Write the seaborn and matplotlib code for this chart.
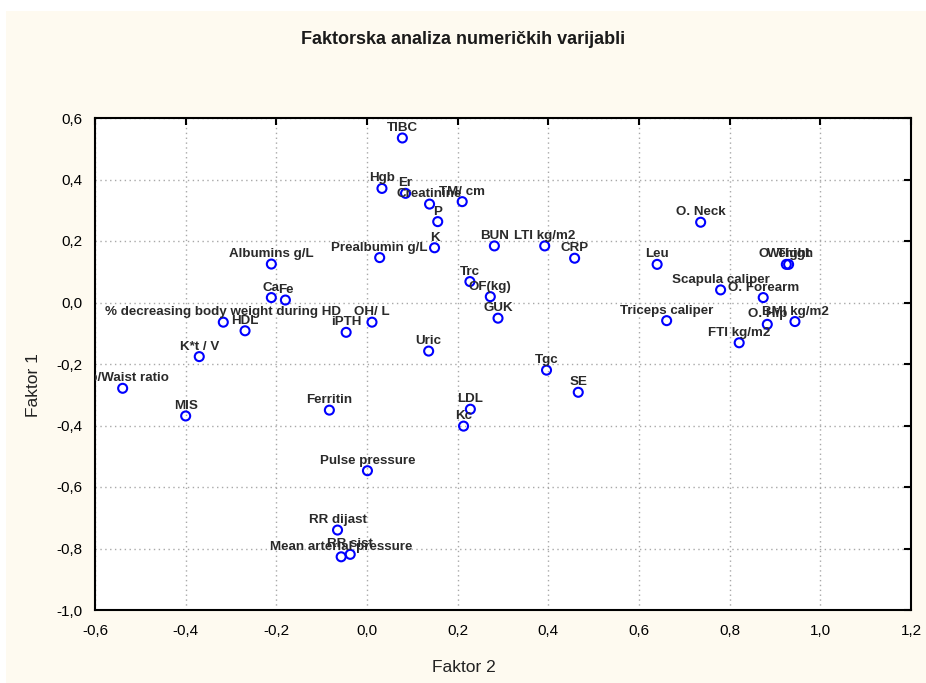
import matplotlib
matplotlib.use("Agg")
import matplotlib.pyplot as plt
from matplotlib.patches import Rectangle
import seaborn as sns

# factor loadings (x = Faktor 2, y = Faktor 1)
varijable = [
    "TIBC", "Hgb", "Er", "Creatinine", "TM/ cm", "P", "K", "Prealbumin g/L",
    "Albumins g/L", "BUN", "LTI kg/m2", "CRP", "Trc", "OF(kg)", "GUK", "Ca", "Fe",
    "% decreasing body weight during HD", "HDL", "iPTH", "OH/ L", "K*t / V",
    "Hip/Waist ratio", "MIS", "Ferritin", "Uric", "Tgc", "SE", "LDL", "Kc",
    "Pulse pressure", "RR dijast", "Mean arterial pressure", "RR sist",
    "O. Neck", "Leu", "O. Thigh", "Weight", "Scapula caliper", "O. Forearm",
    "Triceps caliper", "O. Hip", "BMI kg/m2", "FTI kg/m2",
]
faktor2 = [
    0.078, 0.033, 0.085, 0.138, 0.210, 0.156, 0.149, 0.028,
    -0.211, 0.281, 0.392, 0.458, 0.227, 0.272, 0.289, -0.211, -0.180,
    -0.317, -0.269, -0.046, 0.011, -0.370,
    -0.539, -0.400, -0.083, 0.136, 0.396, 0.466, 0.228, 0.213,
    0.001, -0.065, -0.057, -0.037,
    0.736, 0.640, 0.925, 0.930, 0.780, 0.874,
    0.661, 0.883, 0.944, 0.821,
]
faktor1 = [
    0.535, 0.371, 0.355, 0.320, 0.328, 0.263, 0.178, 0.146,
    0.125, 0.184, 0.184, 0.144, 0.068, 0.019, -0.051, 0.016, 0.008,
    -0.064, -0.092, -0.097, -0.064, -0.176,
    -0.279, -0.369, -0.350, -0.158, -0.220, -0.292, -0.347, -0.402,
    -0.547, -0.740, -0.827, -0.819,
    0.261, 0.124, 0.124, 0.124, 0.041, 0.016,
    -0.059, -0.071, -0.062, -0.131,
]
x_ticks = [-0.6, -0.4, -0.2, 0.0, 0.2, 0.4, 0.6, 0.8, 1.0, 1.2]
y_ticks = [-1.0, -0.8, -0.6, -0.4, -0.2, 0.0, 0.2, 0.4, 0.6]

sns.set_theme(style="white")
plt.rcParams["font.family"] = ["Liberation Sans", "DejaVu Sans"]

fig = plt.figure(figsize=(9.26, 6.83), dpi=100)
fig.patch.set_facecolor("white")
fig.patches.append(Rectangle((6 / 926, 0), 1, 1 - 11 / 683, transform=fig.transFigure,
                             facecolor="#fefaf0", edgecolor="none", zorder=-10))

ax = fig.add_axes([95 / 926, 1 - 610 / 683, (911 - 95) / 926, (610 - 118) / 683])
ax.set_facecolor("white")

sns.scatterplot(x=faktor2, y=faktor1, ax=ax, marker="o", s=42,
                facecolor="none", edgecolor="#0000ff", linewidth=1.5, zorder=3)

for ime, xx, yy in zip(varijable, faktor2, faktor1):
    ax.annotate(ime, (xx, yy), xytext=(0, 5), textcoords="offset points",
                ha="center", va="baseline", fontsize=9.6, fontweight="bold",
                color="#2a2a2a", clip_on=True, zorder=4)

ax.set_xlim(-0.6, 1.2)
ax.set_ylim(-1.0, 0.6)
ax.set_xticks(x_ticks)
ax.set_yticks(y_ticks)
ax.set_xticklabels([f"{t:.1f}".replace(".", ",") for t in x_ticks])
ax.set_yticklabels([f"{t:.1f}".replace(".", ",") for t in y_ticks])
ax.tick_params(direction="in", length=5, width=1.5, top=True, right=True,
               labelsize=11, colors="black")
ax.tick_params(axis="x", pad=10)
ax.tick_params(axis="y", pad=9)
ax.grid(True, linestyle=(0, (1, 2.5)), color="#a8a8a8", linewidth=1)
ax.set_axisbelow(True)
for sp in ax.spines.values():
    sp.set_visible(True)
    sp.set_color("black")
    sp.set_linewidth(1.5)

fig.text(463 / 926, 1 - 40 / 683, "Faktorska analiza numeričkih varijabli",
         ha="center", va="center", fontsize=13, fontweight="bold", color="#1a1a1a")
fig.text(464 / 926, 1 - 668 / 683, "Faktor 2", ha="center", va="center",
         fontsize=12.5, color="#222222")
fig.text(33 / 926, 1 - 385 / 683, "Faktor 1", ha="center", va="center",
         rotation=90, fontsize=12.5, color="#222222")

fig.savefig("out.png", dpi=100, facecolor=fig.get_facecolor())
